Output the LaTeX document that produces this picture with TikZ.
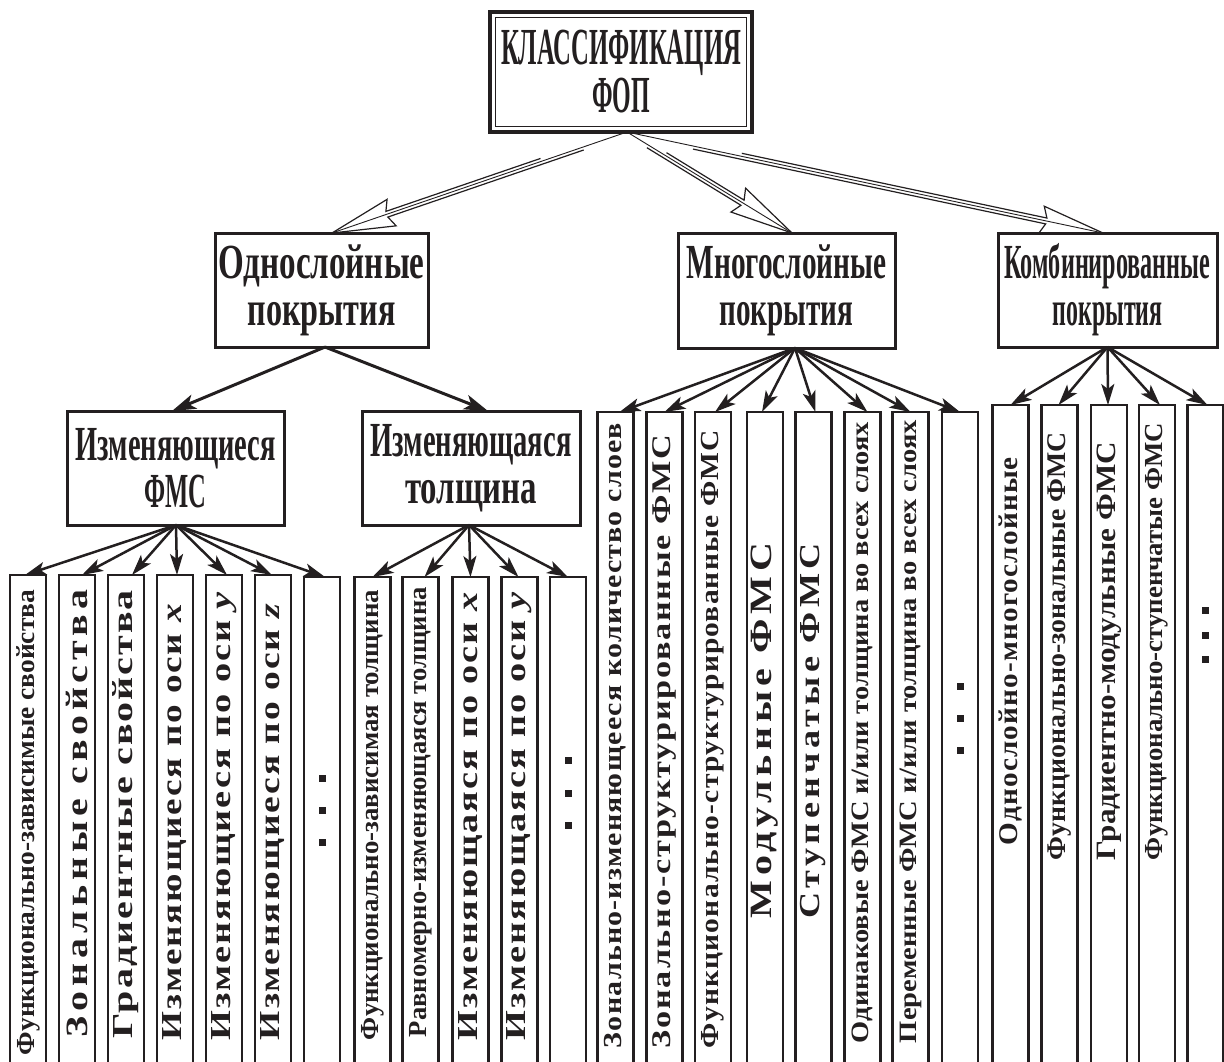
\documentclass[tikz,border=0pt]{standalone}
\usepackage{fontspec}
\usepackage{graphicx}
\setmainfont{Liberation Serif}
\newfontfamily\nf{Liberation Serif}
\newfontfamily\mf[LetterSpace=4]{Liberation Serif}
\newfontfamily\wf[LetterSpace=5]{Liberation Serif}
\newfontfamily\xwf[LetterSpace=12]{Liberation Serif}
\usetikzlibrary{arrows.meta,calc}
\definecolor{ink}{HTML}{231F20}
\newcommand\fitw[2]{\resizebox{#1pt}{\height}{#2}}
\newcommand\vtext[4]{\resizebox{#1pt}{\height}{#2\fontsize{#3}{#3}\selectfont #4}}
\newcommand\sqdots[1]{\rule{7pt}{7pt}\hspace{#1pt}\rule{7pt}{7pt}\hspace{#1pt}\rule{7pt}{7pt}}
\newcommand\hollowarrow[4]{%
  \draw[draw=ink,line width=0.9pt] (#1) -- (#2);
  \coordinate (hB) at ($(#2)!58pt!(#1)$);
  \coordinate (hH) at ($(#2)!63pt!(#1)$);
  \coordinate (hS1) at ($(#1)!#3!(#2)$);
  \coordinate (hS2) at ($(#1)!#4!(#2)$);
  \draw[draw=ink,line width=1.2pt] ($(hS1)!3pt!90:(#2)$) -- ($(hB)!3pt!90:(#2)$) -- ($(hH)!14pt!90:(#2)$) -- (#2) -- ($(hH)!14pt!-90:(#2)$) -- ($(hB)!3pt!-90:(#2)$) -- ($(hS2)!3pt!-90:(#2)$);
}
\begin{document}
\begin{tikzpicture}[x=1pt,y=-1pt,
  mbox/.style={draw=ink, line width=3pt, inner sep=0pt, outer sep=0pt, align=center, text=ink,
    font=\bfseries\fontsize{49}{47}\selectfont},
  leaf/.style={draw=ink, line width=2.5pt, minimum width=36pt, minimum height=700pt, anchor=north, inner sep=0pt, outer sep=0pt},
  vt/.style={rotate=90, inner sep=0pt, outer sep=0pt, text=ink, font=\bfseries, anchor=center},
  marr/.style={draw=ink, line width=3pt, -{Stealth[length=24pt, width=15pt, inset=6pt]}},
  larr/.style={draw=ink, line width=2.5pt, -{Stealth[length=21pt, width=13pt, inset=5pt]}}]
\useasboundingbox (0,0) rectangle (1224,1061);
\clip (0,0) rectangle (1224,1061);
\fill[white] (0,0) rectangle (1224,1061);

% title
\node[draw=ink, line width=3.5pt, minimum width=262pt, minimum height=120pt, inner sep=0pt, outer sep=0pt,
  align=center, text=ink, font=\bfseries\fontsize{52}{48}\selectfont] (top) at (621,72)
  {\fitw{240}{КЛАССИФИКАЦИЯ}\\\fitw{58}{ФОП}};
\draw[draw=ink, line width=1pt] ($(top.north west)+(5.5,5.5)$) rectangle ($(top.south east)+(-5.5,-5.5)$);

% second level
\node[mbox, minimum width=213pt, minimum height=114pt] (one) at (321.5,290) {\fitw{206}{Однослойные}\\\fitw{148}{покрытия}};
\node[mbox, minimum width=217pt, minimum height=115pt] (multi) at (786.5,290.5) {\fitw{200}{Многослойные}\\\fitw{134}{покрытия}};
\node[mbox, minimum width=219pt, minimum height=114pt] (comb) at (1107.5,290) {\fitw{206}{Комбинированные}\\\fitw{110}{покрытия}};
\node[mbox, minimum width=217pt, minimum height=114pt] (chf) at (175.5,468) {\fitw{200}{Изменяющиеся}\\\fitw{62}{ФМС}};
\node[mbox, minimum width=218pt, minimum height=114pt] (cht) at (471,468) {\fitw{201}{Изменяющаяся}\\\fitw{132}{толщина}};

% hollow arrows
\coordinate (o0) at ($(top.south)+(6,0)$);
\coordinate (t1) at ($(one.north)+(10.5,0)$);
\coordinate (t2) at ($(multi.north)+(5.5,0)$);
\coordinate (t3) at ($(comb.north)+(-4.5,0)$);
\hollowarrow{o0}{t1}{0.15}{0.29}
\hollowarrow{o0}{t2}{0.23}{0.13}
\hollowarrow{o0}{t3}{0.24}{0.14}

\draw[marr] ($(one.south)+(3.5,0)$) -- ($(chf.north)+(-3.5,0)$);
\draw[marr] ($(one.south)+(3.5,0)$) -- ($(cht.north)+(17,0)$);

% leaves group A
\node[leaf] (a1) at (28,575) {};
\node[leaf] (a2) at (77,575) {};
\node[leaf] (a3) at (126,575) {};
\node[leaf] (a4) at (175,575) {};
\node[leaf] (a5) at (224,575) {};
\node[leaf] (a6) at (273,575) {};
\node[leaf] (a7) at (322,577) {};
\node[vt] (ta1) at (28,822.5) {\vtext{465}{\nf}{26}{Функционально-зависимые свойства}};
\node[vt] (ta2) at (77,813.5) {\vtext{447}{\xwf}{31}{Зональные свойства}};
\node[vt] (ta3) at (126,814) {\vtext{448}{\wf}{29}{Градиентные свойства}};
\node[vt] (ta4) at (175,821) {\vtext{438}{\wf}{29}{Изменяющиеся по оси \textit{x}}};
\node[vt] (ta5) at (224,815) {\vtext{450}{\wf}{29}{Изменяющиеся по оси \textit{y}}};
\node[vt] (ta6) at (273,821) {\vtext{438}{\wf}{29}{Изменяющиеся по оси \textit{z}}};
\node[vt] (ta7) at (322,810) {\sqdots{25}};
\foreach \n/\dx in {a1/-3,a2/5,a3/6,a4/2,a5/3,a6/-1,a7/3}
  \draw[larr] ($(chf.south)+(0.5,0)$) -- ($(\n.north)+(\dx,0)$);

% leaves group B
\node[leaf] (b1) at (372.5,577) {};
\node[leaf] (b2) at (420.5,577) {};
\node[leaf] (b3) at (470.5,577) {};
\node[leaf] (b4) at (519.5,577) {};
\node[leaf] (b5) at (568,577) {};
\node[vt] (tb1) at (372.5,815) {\vtext{450}{\nf}{26}{Функционально-зависимая толщина}};
\node[vt] (tb2) at (420.5,812) {\vtext{450}{\nf}{26}{Равномерно-изменяющаяся толщина}};
\node[vt] (tb3) at (470.5,815) {\vtext{450}{\wf}{29}{Изменяющаяся по оси \textit{x}}};
\node[vt] (tb4) at (519.5,815) {\vtext{450}{\wf}{29}{Изменяющаяся по оси \textit{y}}};
\node[vt] (tb5) at (568,793) {\sqdots{25.5}};
\foreach \n/\dx in {b1/0,b2/4,b3/0,b4/-1,b5/0}
  \draw[larr] ($(cht.south)+(-2,0)$) -- ($(\n.north)+(\dx,0)$);

% leaves group C
\node[leaf] (c1) at (615.5,412) {};
\node[leaf] (c2) at (664.5,412) {};
\node[leaf] (c3) at (713,412) {};
\node[leaf] (c4) at (765,412) {};
\node[leaf] (c5) at (813.5,412) {};
\node[leaf] (c6) at (862.5,412) {};
\node[leaf] (c7) at (910.5,412) {};
\node[leaf] (c8) at (960,412) {};
\node[vt] (tc1) at (615.5,735.5) {\vtext{625}{\mf}{26}{Зонально-изменяющееся количество слоев}};
\node[vt] (tc2) at (664.5,741.5) {\vtext{613}{\wf}{27}{Зонально-структурированные ФМС}};
\node[vt] (tc3) at (713,739) {\vtext{618}{\mf}{26}{Функционально-структурированные ФМС}};
\node[vt] (tc4) at (765,730.5) {\vtext{375}{\xwf}{31}{Модульные ФМС}};
\node[vt] (tc5) at (813.5,730.5) {\vtext{375}{\xwf}{29}{Ступенчатые ФМС}};
\node[vt] (tc6) at (862.5,732.5) {\vtext{621}{\nf}{25}{Одинаковые ФМС и/или толщина во всех слоях}};
\node[vt] (tc7) at (910.5,731.5) {\vtext{623}{\nf}{25}{Переменные ФМС и/или толщина во всех слоях}};
\node[vt] (tc8) at (960,718) {\sqdots{25}};
\foreach \n/\dx in {c1/4,c2/0,c3/2,c4/-3,c5/2,c6/5,c7/0,c8/0}
  \draw[larr] ($(multi.south)+(8.5,0)$) -- ($(\n.north)+(\dx,0)$);

% leaves group D
\node[leaf] (d1) at (1010.5,405) {};
\node[leaf] (d2) at (1059.5,405) {};
\node[leaf] (d3) at (1109,405) {};
\node[leaf] (d4) at (1157,405) {};
\node[leaf] (d5) at (1205.5,405) {};
\node[vt] (td1) at (1010.5,651) {\vtext{388}{\mf}{27}{Однослойно-многослойные}};
\node[vt] (td2) at (1059.5,646) {\vtext{428}{\nf}{27}{Функционально-зональные ФМС}};
\node[vt] (td3) at (1109,651) {\vtext{418}{\nf}{28}{Градиентно-модульные ФМС}};
\node[vt] (td4) at (1157,641.5) {\vtext{437}{\nf}{26}{Функционально-ступенчатые ФМС}};
\node[vt] (td5) at (1205.5,635) {\sqdots{17.5}};
\foreach \n/\dx in {d1/0,d2/-1,d3/-1,d4/3,d5/2}
  \draw[larr] ($(comb.south)+(0,0)$) -- ($(\n.north)+(\dx,0)$);
\end{tikzpicture}
\end{document}
